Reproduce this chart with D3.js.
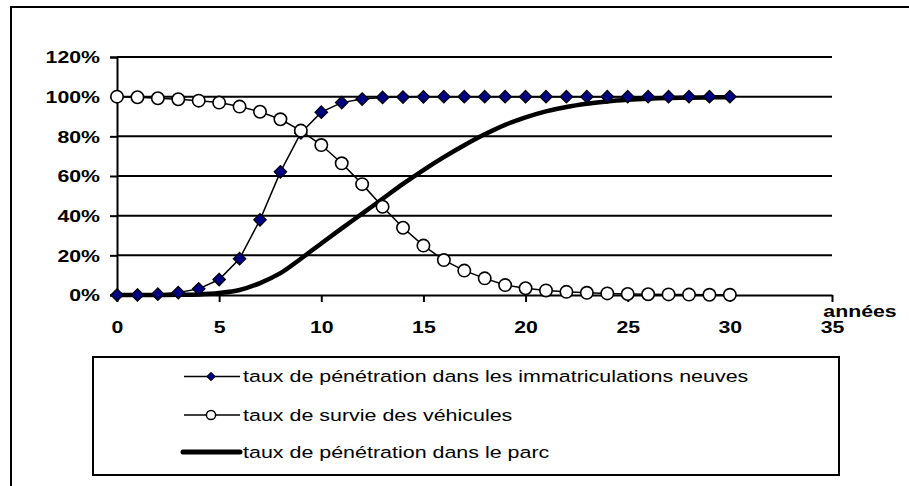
<!DOCTYPE html>
<html>
<head>
<meta charset="utf-8">
<script src="https://cdn.jsdelivr.net/npm/d3@7"></script>
<style>
  body { margin: 0; background: #fff; }
  text { font-family: "Liberation Sans", Arial, sans-serif; }
</style>
</head>
<body>
<div id="chart"></div>
<script>
// years on the x axis
var years = [0,1,2,3,4,5,6,7,8,9,10,11,12,13,14,15,16,17,18,19,20,21,22,23,24,25,26,27,28,29,30];

// taux de pénétration dans les immatriculations neuves (%)
var neuves = [0,0,0.4,1.2,3.1,7.8,18.3,37.9,62.1,81.7,92.2,97.0,98.8,99.6,99.8,99.9,100,100,100,100,100,100,100,100,100,100,100,100,100,100,100];

// taux de survie des véhicules (%)
var survie = [100,99.7,99.2,98.7,98.0,97.0,95.0,92.4,88.6,82.9,75.6,66.4,55.9,44.5,33.9,24.9,17.6,12.3,8.4,5.0,3.4,2.3,1.6,1.1,0.8,0.5,0.4,0.3,0.2,0.1,0.1];

// taux de pénétration dans le parc (%)
var parc = [0,0,0,0.1,0.3,1.0,2.5,6.0,11.0,18.3,26.0,33.6,41.0,48.5,56.0,63.0,69.5,75.5,81.0,85.8,89.6,92.6,94.8,96.4,97.6,98.4,98.95,99.3,99.5,99.65,99.75];

var xTicks = [0,5,10,15,20,25,30,35];
var yTicks = [0,20,40,60,80,100,120];

var legendLabels = [
  "taux de pénétration dans les immatriculations neuves",
  "taux de survie des véhicules",
  "taux de pénétration dans le parc"
];

var width = 909;
var height = 486;
var sx = 1.33; // the picture is stretched horizontally

var svg = d3.select("#chart").append("svg")
  .attr("width", width)
  .attr("height", height)

svg.append("rect")
  .attr("width", width).attr("height", height)
  .attr("fill", "#fff")

// outer frame (runs off the right and bottom edges)
svg.append("rect")
  .attr("x", 11).attr("y", 7)
  .attr("width", 950).attr("height", 520)
  .attr("fill", "none")
  .attr("stroke", "#000")
  .attr("stroke-width", 2)

var xScale = d3.scaleLinear().domain([0, 35]).range([117, 832]);
var yScale = d3.scaleLinear().domain([0, 120]).range([295, 57]);

// gridlines
svg.append("g")
  .selectAll("line")
  .data(yTicks.filter(d => d > 0))
  .enter().append("line")
  .attr("x1", xScale(0)).attr("x2", xScale(35))
  .attr("y1", d => yScale(d)).attr("y2", d => yScale(d))
  .attr("stroke", "#000")
  .attr("stroke-width", 2)

// y axis
var yAxisG = svg.append("g")
  .attr("transform", "translate(" + xScale(0) + ",0)")
  .call(d3.axisLeft(yScale).tickValues(yTicks).tickSize(7).tickFormat(d => d + "%"))

yAxisG.select(".domain").attr("stroke", "#000").attr("stroke-width", 2)
yAxisG.selectAll(".tick line").attr("stroke", "#000").attr("stroke-width", 2)
yAxisG.selectAll(".tick text")
  .attr("x", -17 / sx)
  .attr("dy", null)
  .attr("y", 5.7)
  .attr("transform", "scale(" + sx + ",1)")
  .attr("fill", "#000")
  .style("font-size", "16px")
  .style("font-weight", "bold")
  .style("font-family", "'Liberation Sans', Arial, sans-serif")

// x axis
var xAxisG = svg.append("g")
  .attr("transform", "translate(0," + yScale(0) + ")")
  .call(d3.axisBottom(xScale).tickValues(xTicks).tickSize(7).tickSizeOuter(0))

xAxisG.select(".domain").attr("stroke", "#000").attr("stroke-width", 2)
xAxisG.selectAll(".tick line").attr("stroke", "#000").attr("stroke-width", 2)
xAxisG.selectAll(".tick text")
  .attr("y", 38)
  .attr("dy", null)
  .attr("transform", "scale(" + sx + ",1)")
  .attr("fill", "#000")
  .style("font-size", "16px")
  .style("font-weight", "bold")
  .style("font-family", "'Liberation Sans', Arial, sans-serif")

svg.append("text")
  .attr("transform", "translate(860,317) scale(" + sx + ",1)")
  .attr("text-anchor", "middle")
  .style("font-size", "16px")
  .style("font-weight", "bold")
  .text("années")

// series: thick line first, then diamonds, then circles
var parcLine = d3.line()
  .x((d, i) => xScale(years[i]))
  .y(d => yScale(d))
  .curve(d3.curveCatmullRom)

svg.append("path")
  .datum(parc)
  .attr("d", parcLine)
  .attr("fill", "none")
  .attr("stroke", "#000")
  .attr("stroke-width", 4.5)

var straight = d3.line()
  .x((d, i) => xScale(years[i]))
  .y(d => yScale(d))

var diamond = d3.symbol().type(d3.symbolDiamond2);

svg.append("path")
  .datum(neuves)
  .attr("d", straight)
  .attr("fill", "none")
  .attr("stroke", "#000")
  .attr("stroke-width", 1.5)

svg.append("g")
  .selectAll("path")
  .data(neuves)
  .enter().append("path")
  .attr("d", diamond.size(100))
  .attr("transform", (d, i) => "translate(" + xScale(years[i]) + "," + yScale(d) + ")")
  .attr("fill", "#000080")
  .attr("stroke", "#000")
  .attr("stroke-width", 1.2)

svg.append("path")
  .datum(survie)
  .attr("d", straight)
  .attr("fill", "none")
  .attr("stroke", "#000")
  .attr("stroke-width", 1.5)

svg.append("g")
  .selectAll("circle")
  .data(survie)
  .enter().append("circle")
  .attr("cx", (d, i) => xScale(years[i]))
  .attr("cy", d => yScale(d))
  .attr("r", 6.2)
  .attr("fill", "#fff")
  .attr("stroke", "#000")
  .attr("stroke-width", 1.6)

// legend
svg.append("rect")
  .attr("x", 93).attr("y", 357)
  .attr("width", 746).attr("height", 118)
  .attr("fill", "#fff")
  .attr("stroke", "#000")
  .attr("stroke-width", 2)

var rowY = [376.5, 415, 452];

var key = svg.selectAll(".key-row")
  .data(legendLabels)
  .enter().append("g")
  .attr("class", "key-row")
  .attr("transform", (d, i) => "translate(0," + rowY[i] + ")")

key.append("line")
  .attr("x1", (d, i) => i === 2 ? 183 : 184).attr("x2", 240)
  .attr("stroke", "#000")
  .attr("stroke-width", (d, i) => i === 2 ? 5 : 1.5)
  .attr("stroke-linecap", (d, i) => i === 2 ? "round" : "butt")

key.filter((d, i) => i === 0).append("path")
  .attr("d", diamond.size(46))
  .attr("transform", "translate(211,0)")
  .attr("fill", "#000080")
  .attr("stroke", "#000")
  .attr("stroke-width", 1)

key.filter((d, i) => i === 1).append("circle")
  .attr("cx", 211).attr("r", 4.6)
  .attr("fill", "#fff")
  .attr("stroke", "#000")
  .attr("stroke-width", 1.5)

key.append("text")
  .attr("transform", "translate(243,5.5) scale(1.30,1)")
  .style("font-size", "16.5px")
  .text(d => d)
</script>
</body>
</html>
